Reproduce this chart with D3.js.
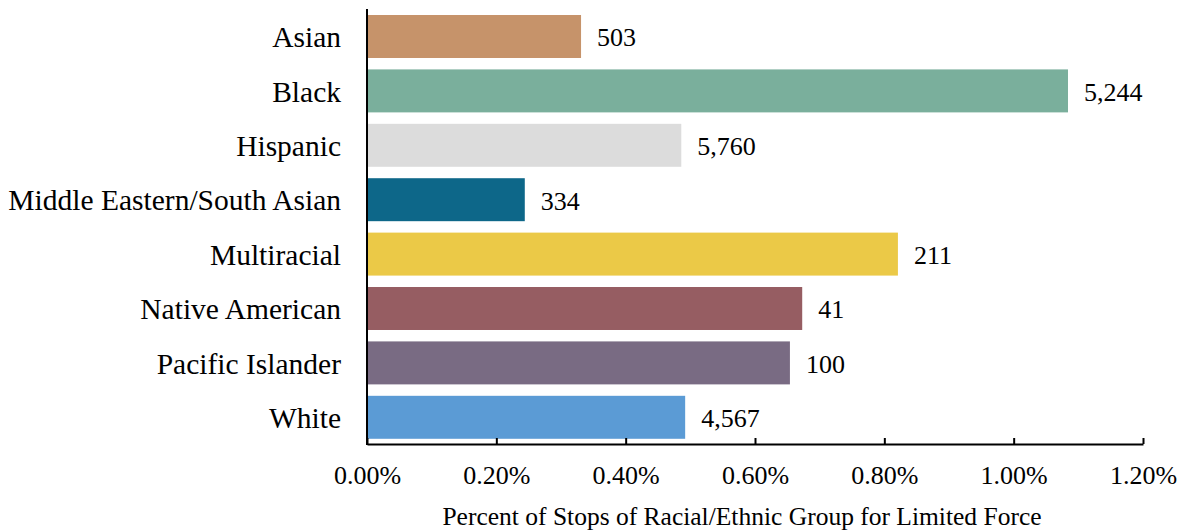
<!DOCTYPE html>
<html><head><meta charset="utf-8">
<script src="https://cdn.jsdelivr.net/npm/d3@7"></script>
<style>body{margin:0;background:#fff}svg{display:block}text{font-family:"Liberation Serif","Times New Roman",serif;fill:#000}</style>
</head><body>
<svg id="c" width="1182" height="531"></svg>
<script>
const categories = ["Asian","Black","Hispanic","Middle Eastern/South Asian","Multiracial","Native American","Pacific Islander","White"];
const percents = [0.331, 1.084, 0.486, 0.244, 0.821, 0.673, 0.654, 0.492];
const counts = ["503","5,244","5,760","334","211","41","100","4,567"];
const colors = ["#C6936A","#7AAF9C","#DCDCDC","#0D6789","#EBC947","#965D62","#796B83","#5B9BD5"];
const xTicks = [0,0.2,0.4,0.6,0.8,1.0,1.2];
const xTitle = "Percent of Stops of Racial/Ethnic Group for Limited Force";

const svg = d3.select("#c");
const x = d3.scaleLinear().domain([0,1.2]).range([367,1143]);
const y = d3.scaleBand().domain(categories).range([9.3,444.5]).paddingInner(0.21).paddingOuter(0.105);

svg.selectAll("rect.bar").data(categories).join("rect")
  .attr("x", x(0)).attr("y", d=>y(d))
  .attr("width", (d,i)=>x(percents[i])-x(0)).attr("height", y.bandwidth())
  .attr("fill", (d,i)=>colors[i]);

svg.selectAll("text.val").data(categories).join("text")
  .attr("x",(d,i)=>x(percents[i])+16).attr("y", d=>y(d)+y.bandwidth()/2)
  .attr("dy","0.38em").attr("font-size",26).text((d,i)=>counts[i]);

svg.selectAll("text.cat").data(categories).join("text")
  .attr("x",341).attr("y", d=>y(d)+y.bandwidth()/2)
  .attr("dy","0.36em").attr("text-anchor","end").attr("font-size",29.5).text(d=>d);

// x axis
const xa = svg.append("g").attr("transform","translate(0,444)")
  .call(d3.axisBottom(x).tickValues(xTicks).tickSize(-6).tickSizeOuter(0).tickFormat(d=>d.toFixed(2)+"%"));
xa.select(".domain").attr("stroke","#000").attr("stroke-width",2);
xa.selectAll(".tick line").attr("stroke","#000").attr("stroke-width",2);
xa.selectAll(".tick text").attr("font-family","Liberation Serif").attr("font-size",26).attr("y",31).attr("dy","0.35em");

// y axis line
svg.append("line").attr("x1",367).attr("x2",367).attr("y1",9).attr("y2",445).attr("stroke","#000").attr("stroke-width",2);

svg.append("text").attr("x",742).attr("y",516).attr("dy","0.35em").attr("text-anchor","middle").attr("font-size",25.5).text(xTitle);
</script>
</body></html>
